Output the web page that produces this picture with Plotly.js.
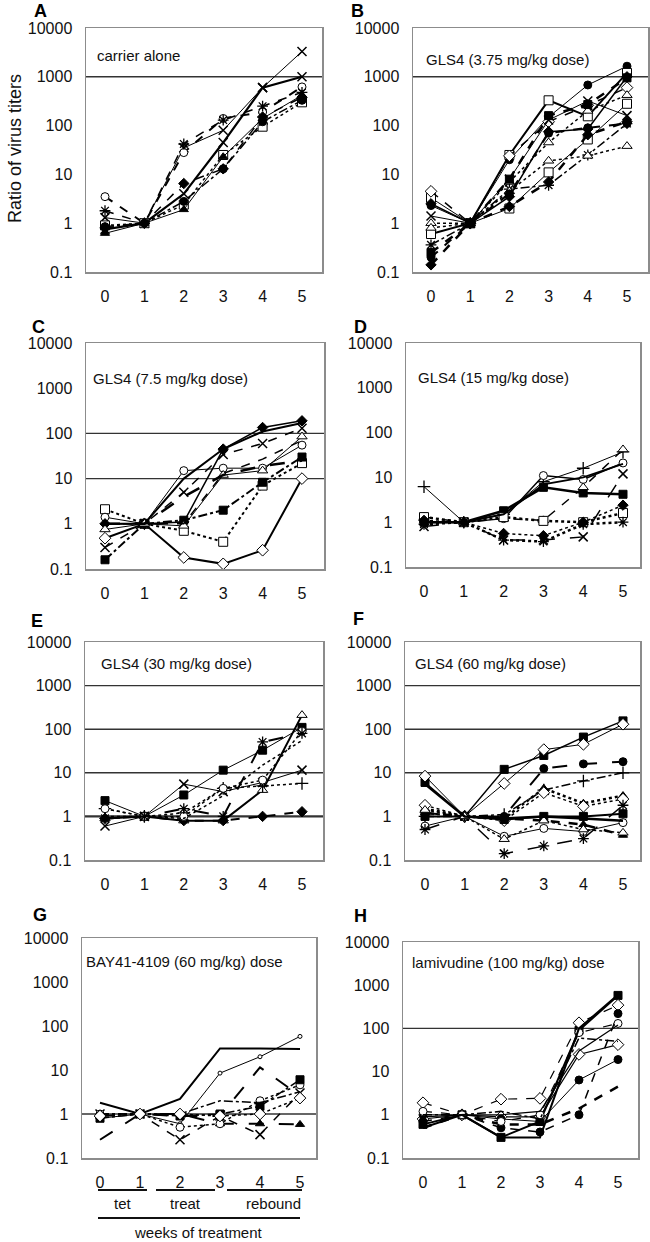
<!DOCTYPE html>
<html><head><meta charset="utf-8">
<script src="https://cdn.plot.ly/plotly-3.0.1.min.js"></script>
<style>html,body{margin:0;padding:0;background:#fff}#chart{width:650px;height:1242px}</style>
</head><body><div id="chart"></div>
<script>
// ---------- DATA ----------
const weeks = [0, 1, 2, 3, 4, 5];
const yTickVals = [0.1, 1, 10, 100, 1000, 10000];
const yTickText = ['0.1', '1', '10', '100', '1000', '10000'];
const xTickText = ['0', '1', '2', '3', '4', '5'];
const panelLetters = ['A', 'B', 'C', 'D', 'E', 'F', 'G', 'H'];
const panelLabels = ['carrier alone', 'GLS4 (3.75 mg/kg dose)', 'GLS4 (7.5 mg/kg dose)', 'GLS4 (15 mg/kg dose)',
  'GLS4 (30 mg/kg dose)', 'GLS4 (60 mg/kg dose)', 'BAY41-4109 (60 mg/kg) dose', 'lamivudine (100 mg/kg) dose'];
const refLines = [[1000], [1000], [100, 10], [], [1000, 100, 10, 1], [1000, 100, 10], [1], [100]];
const yAxisTitle = 'Ratio of virus titers';
const phaseLabels = ['tet', 'treat', 'rebound'];
const bottomTitle = 'weeks of treatment';

const panelA = [
  [1.3, 1, 35, 80, 600, 3300],
  [0.75, 1, 4, 45, 600, 1000],
  [3.5, 1, 28, 140, 190, 620],
  [1.8, 1, 42, 130, 250, 480],
  [0.9, 1, 2.4, 25, 95, 300],
  [0.62, 1, 1.9, 23, 140, 420],
  [0.8, 1, 6.5, 13, 150, 380],
  [0.85, 1, 2.8, 13, 120, 330]
];
const panelB = [
  [2.3, 1, 20, 150, 680, 1650],
  [0.6, 1, 25, 330, 155, 1200],
  [3.3, 1, 2.0, 11, 52, 280],
  [4.5, 1, 24, 120, 260, 600],
  [1.0, 1, 7, 45, 200, 420],
  [1.4, 1, 8, 130, 320, 160],
  [0.36, 1, 5, 6, 25, 110],
  [0.8, 1, 4.5, 19, 24, 38],
  [0.14, 1, 2.2, 7, 65, 120],
  [0.2, 1, 4, 70, 90, 110],
  [2.5, 1, 3.5, 75, 85, 1000],
  [0.25, 1, 8, 160, 270, 950]
];
const panelC = [
  [0.48, 1, 0.18, 0.13, 0.26, 10],
  [2.1, 1, 0.7, 0.4, 7, 22],
  [0.16, 1, 1.2, 2, 8.3, 30],
  [1.4, 1, 15, 17, 17, 55],
  [1.0, 1, 1.1, 45, 135, 190],
  [0.3, 1, 5, 34, 60, 130],
  [0.75, 1, 0.9, 12, 15, 85],
  [1.0, 1, 10, 45, 110, 170],
  [1.0, 1, 1, 13, 27, 70],
  [1.0, 1, 4, 12, 19, 25]
];
const panelD = [
  [6.2, 1, 1.5, 8, 16, 37],
  [1.0, 1, 1.2, 11, 9, 21],
  [1.0, 1, 1.8, 6, 4.5, 4.2],
  [1.3, 1, 1.2, 1.1, 6, 42],
  [1.3, 1, 1.3, 1.07, 1.0, 1.6],
  [0.8, 1, 0.4, 0.4, 0.47, 12],
  [0.9, 1, 0.4, 0.37, 0.9, 1.0],
  [1.1, 1, 0.56, 0.5, 1.0, 2.4],
  [1.0, 1, 1.5, 7, 10, 20]
];
const panelE = [
  [2.3, 1, 3.1, 11.5, 33, 110],
  [0.9, 1, 0.8, 0.8, 4, 210],
  [0.6, 1, 5.5, 3.7, 6, 11.5],
  [1.5, 1, 1.2, 4.4, 5, 5.7],
  [0.9, 1, 0.8, 0.8, 1.0, 1.28],
  [1.5, 1, 1.0, 4.4, 6.8, 90],
  [0.9, 1, 1.5, 1.0, 51, 80],
  [1.0, 1, 0.9, 3, 15, 55]
];
const panelF = [
  [6, 1, 12, 25, 66, 155],
  [8.4, 1, 5.7, 34, 45, 130],
  [1.2, 1, 1.0, 12.5, 16, 18],
  [1.0, 1, 1.1, 4, 6.5, 10],
  [1.5, 1, 0.9, 4.4, 2, 3],
  [1.8, 1, 0.8, 3.5, 1.7, 2.5],
  [1.0, 1, 0.85, 1.0, 1.0, 1.15],
  [0.6, 1, 0.35, 0.53, 0.45, 0.72],
  [0.5, 1, 0.14, 0.21, 0.31, 1.8],
  [1.2, 1, 0.9, 0.8, 0.65, 0.37],
  [1.4, 1, 0.3, 0.8, 0.5, 0.42],
  [5.5, 1, 0.9, 1.0, 0.9, 0.8]
];
const panelG = [
  [1.8, 1, 2.2, 31, 31, 30],
  [0.8, 1, 0.6, 8.5, 20, 58],
  [0.26, 1, 0.9, 0.9, 11.5, 2.6],
  [0.9, 1, 1.0, 0.6, 0.6, 0.58],
  [1.0, 1, 0.26, 0.9, 0.34, 3],
  [1.0, 1, 0.5, 0.6, 2.0, 4.6],
  [0.8, 1, 0.9, 1.0, 1.5, 6],
  [1.0, 1, 1.0, 2, 1.8, 3.2],
  [0.9, 1, 1.0, 0.9, 1.0, 2.3]
];
const panelH = [
  [0.6, 1, 0.3, 0.7, 90, 580],
  [1.9, 1, 2.3, 2.4, 135, 345],
  [0.8, 1, 0.9, 0.9, 25, 42],
  [1.0, 1, 0.8, 0.7, 6.4, 19],
  [0.5, 1, 0.6, 0.6, 1.4, 4.5],
  [0.7, 1, 0.5, 0.4, 1.0, 220],
  [1.2, 1, 0.7, 1.0, 80, 130],
  [0.5, 1, 0.3, 0.3, 100, 600],
  [1.0, 1, 1.2, 0.8, 60, 50],
  [0.9, 1, 1.0, 1.2, 30, 120]
];
const panels = [panelA, panelB, panelC, panelD, panelE, panelF, panelG, panelH];

// ---------- STYLES (marker | dash | width) ----------
const stylesA = ['x|solid|1', 'x|solid|2.2', 'oc|dash|2', 'ast|dash|1.5', 'os|dot|1.5', 'ft|solid|1', 'fd|dash|1.5', 'fc|dashdot|1.5'];
const stylesB = ['fc|solid|1', 'os|solid|2', 'os|solid|1', 'od|dash|1.5', 'ot|dot|1.5', 'x|solid|1', 'ast|dashdot|1.5', 'ot|dot|1.5', 'fd|dash|2.5', 'fc|dash|2', 'fd|solid|1.5', 'fs|dash|2.5'];
const stylesC = ['od|solid|2', 'os|dot|2', 'fs|dashdot|2', 'oc|solid|1', 'fd|solid|1.5', 'x|dash|1.5', 'ot|solid|1', 'none|solid|2', 'none|dash|1.5', 'none|longdash|2.5'];
const stylesD = ['plus|solid|1', 'oc|solid|1.5', 'fs|solid|2.5', 'ot|dash|1.5', 'os|dot|2.5', 'x|longdash|1.5', 'ast|dot|2.5', 'fd|dot|1.5', 'none|solid|2'];
const stylesE = ['fs|solid|1', 'ot|solid|2', 'x|solid|1', 'plus|dot|1.5', 'fd|dash|2', 'oc|dot|1.5', 'ast|longdash|2', 'none|dot|1.5'];
const stylesF = ['fs|solid|1.5', 'od|solid|1', 'fc|longdash|2', 'plus|dashdot|1.5', 'ft|dot|2.5', 'od|dot|1.5', 'fs|solid|2', 'oc|solid|1', 'ast|longdash|1.5', 'ft|dash|2.5', 'ot|dot|1.5', 'none|solid|2.5'];
const stylesG = ['none|solid|2', 'sc|solid|1', 'none|longdash|2', 'ft|longdash|2', 'x|dash|1.5', 'oc|dot|1.5', 'fs|dashdot|1.5', 'none|dashdot|1.5', 'od|dot|1.5'];
const stylesH = ['fs|solid|2', 'od|dash|1.2', 'od|solid|1.2', 'fc|solid|1', 'none|dash|2.5', 'fc|dash|1.5', 'oc|dash|1.2', 'none|solid|2', 'none|dashdot|1.5', 'none|solid|1.2'];
const panelStyles = [stylesA, stylesB, stylesC, stylesD, stylesE, stylesF, stylesG, stylesH];

// ---------- LAYOUT GEOMETRY (pixels) ----------
const W = 650, H = 1242;
const boxes = [[86, 322, 28, 272], [413, 648, 28, 272], [86, 324, 343, 569], [406, 640, 343, 567],
  [85, 323, 642, 860], [405, 640, 642, 860], [82, 316, 938, 1158], [403, 638, 942, 1158]];
const tickPx = [[105, 302], [431, 627], [105, 302], [424, 623], [105, 302], [425, 623], [100, 300], [423, 618]];
const letterPos = [[40, 11], [357, 11], [38, 327], [360, 327], [37, 621], [358, 619], [40, 915], [360, 916]];
const labelPos = [[95, 56], [424, 60], [91, 378], [416, 377], [99, 663], [413, 663], [84, 961], [410, 962]];

const px = x => x / W;
const py = y => 1 - y / H;
const FONT = 'Arial, "Liberation Sans", sans-serif';

function markerFor(code) {
  const m = {size: 8, color: 'black', line: {color: 'black', width: 1}};
  switch (code) {
    case 'oc': m.symbol = 'circle'; m.color = 'white'; break;
    case 'sc': m.symbol = 'circle'; m.color = 'white'; m.size = 4; break;
    case 'fc': m.symbol = 'circle'; break;
    case 'os': m.symbol = 'square'; m.color = 'white'; m.size = 9; break;
    case 'fs': m.symbol = 'square'; m.size = 8; break;
    case 'od': m.symbol = 'diamond'; m.color = 'white'; m.size = 9; break;
    case 'fd': m.symbol = 'diamond'; m.size = 8; break;
    case 'ot': m.symbol = 'triangle-up'; m.color = 'white'; m.size = 9; break;
    case 'ft': m.symbol = 'triangle-up'; m.size = 8; break;
    case 'x': m.symbol = 'x-thin-open'; m.size = 9; m.line.width = 1.5; break;
    case 'ast': m.symbol = 'asterisk-open'; m.size = 9; m.line.width = 1.3; break;
    case 'plus': m.symbol = 'cross-thin-open'; m.size = 9; m.line.width = 1.3; break;
    default: m.size = 0;
  }
  return m;
}

const traces = [];
const layout = {
  width: W, height: H, margin: {l: 0, r: 0, t: 0, b: 0},
  paper_bgcolor: 'white', plot_bgcolor: 'white', showlegend: false,
  font: {family: FONT, color: '#111'},
  annotations: [], shapes: []
};

panels.forEach((series, i) => {
  const n = i === 0 ? '' : String(i + 1);
  const [l, r, t, b] = boxes[i];
  const [x0, x5] = tickPx[i];
  const u = (x5 - x0) / 5;
  layout['xaxis' + n] = {
    domain: [px(l), px(r)], range: [(l - x0) / u, 5 + (r - x5) / u],
    anchor: 'y' + n, tickvals: weeks, ticktext: xTickText, ticks: '',
    showline: true, mirror: true, linecolor: '#8c8c8c', linewidth: 1.5,
    showgrid: false, zeroline: false, ticklabelstandoff: 9,
    tickfont: {family: FONT, size: 16, color: '#111'}, fixedrange: true
  };
  layout['yaxis' + n] = {
    domain: [py(b), py(t)], type: 'log', range: [-1, 4],
    anchor: 'x' + n, tickvals: yTickVals, ticktext: yTickText, ticks: '',
    showline: true, mirror: true, linecolor: '#8c8c8c', linewidth: 1.5,
    showgrid: false, zeroline: false, ticklabelstandoff: 9,
    tickfont: {family: FONT, size: 16, color: '#111'}, fixedrange: true
  };
  refLines[i].forEach(v => {
    layout.shapes.push({type: 'line', xref: 'x' + n + ' domain', yref: 'y' + n, x0: 0, x1: 1, y0: v, y1: v,
      line: {color: '#333', width: (i === 4 && v === 1) ? 2.2 : 1.4}, layer: 'below'});
  });
  series.forEach((vals, k) => {
    const [mk, dash, w] = panelStyles[i][k].split('|');
    traces.push({
      type: 'scatter', mode: mk === 'none' ? 'lines' : 'lines+markers',
      x: weeks, y: vals, xaxis: 'x' + n, yaxis: 'y' + n,
      line: {color: 'black', width: +w, dash: dash},
      marker: markerFor(mk), cliponaxis: false, hoverinfo: 'skip'
    });
  });
  layout.annotations.push({xref: 'paper', yref: 'paper', x: px(letterPos[i][0]), y: py(letterPos[i][1]),
    text: '<b>' + panelLetters[i] + '</b>', showarrow: false, xanchor: 'center', yanchor: 'middle',
    font: {family: FONT, size: 18, color: '#000'}});
  layout.annotations.push({xref: 'paper', yref: 'paper', x: px(labelPos[i][0]), y: py(labelPos[i][1]),
    text: panelLabels[i], showarrow: false, xanchor: 'left', yanchor: 'middle',
    font: {family: FONT, size: 15, color: '#111'}});
});

// y-axis title
layout.annotations.push({xref: 'paper', yref: 'paper', x: px(15), y: py(149), text: yAxisTitle,
  textangle: -90, showarrow: false, xanchor: 'center', yanchor: 'middle',
  font: {family: FONT, size: 18, color: '#111'}});

// panel G phase labels and bars
const phaseBars = [[98, 147], [156, 215], [227, 302]];
const phaseCenters = [123, 185, 273];
phaseBars.forEach((seg, k) => {
  layout.shapes.push({type: 'line', xref: 'paper', yref: 'paper', x0: px(seg[0]), x1: px(seg[1]),
    y0: py(1190), y1: py(1190), line: {color: '#111', width: 2}});
  layout.annotations.push({xref: 'paper', yref: 'paper', x: px(phaseCenters[k]), y: py(1203),
    text: phaseLabels[k], showarrow: false, xanchor: 'center', yanchor: 'middle',
    font: {family: FONT, size: 15, color: '#111'}});
});
layout.shapes.push({type: 'line', xref: 'paper', yref: 'paper', x0: px(98), x1: px(300),
  y0: py(1218), y1: py(1218), line: {color: '#111', width: 2}});
layout.annotations.push({xref: 'paper', yref: 'paper', x: px(198), y: py(1232), text: bottomTitle,
  showarrow: false, xanchor: 'center', yanchor: 'middle', font: {family: FONT, size: 15, color: '#111'}});

Plotly.newPlot('chart', traces, layout, {staticPlot: true, displayModeBar: false});
</script></body></html>
